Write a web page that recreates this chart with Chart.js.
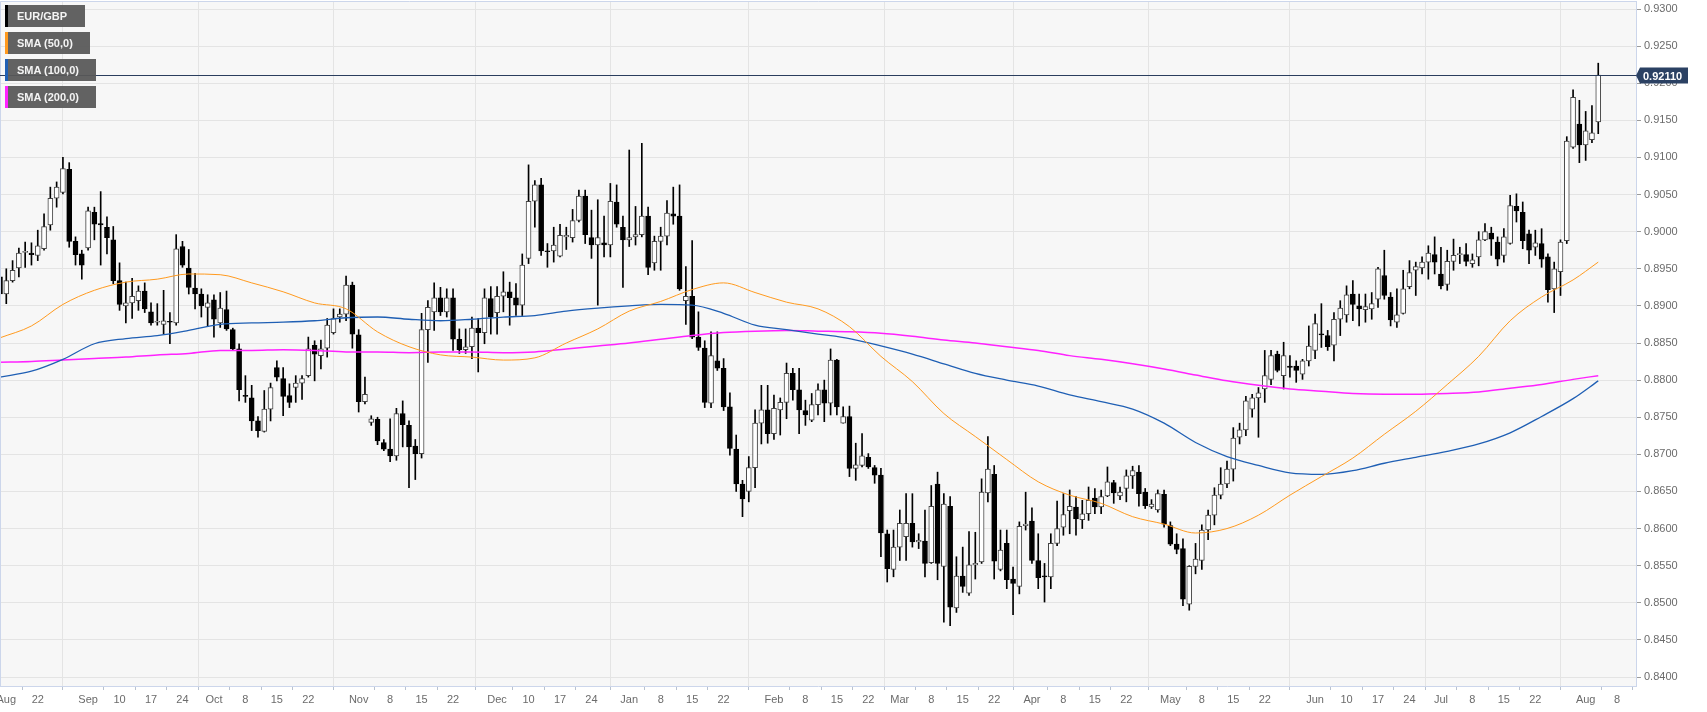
<!DOCTYPE html>
<html>
<head>
<meta charset="utf-8">
<title>EUR/GBP daily</title>
<script src="https://cdn.jsdelivr.net/npm/chart.js@4.4.1/dist/chart.umd.min.js"></script>
<style>
  html, body { margin: 0; padding: 0; background: #fff; }
  #wrap { position: relative; width: 1707px; height: 712px; }
  #legend { position: absolute; left: 5px; top: 5px; }
  .tag {
    position: relative; height: 22px; margin-bottom: 5px; box-sizing: border-box;
    padding-left: 12px; background: rgba(88, 88, 88, 0.94); color: #f4f4f4;
    font: bold 11px "Liberation Sans", Arial, sans-serif; line-height: 22px;
  }
  .tag::before { content: ""; position: absolute; left: 0; top: 0; bottom: 0; width: 3px; background: var(--c); }
</style>
</head>
<body>
<div id="wrap">
  <canvas id="chart" width="1707" height="712"></canvas>
  <div id="legend">
    <div class="tag" style="--c:#000; width:80px">EUR/GBP</div>
    <div class="tag" style="--c:#ff9a1f; width:85px">SMA (50,0)</div>
    <div class="tag" style="--c:#1f5fb4; width:91px">SMA (100,0)</div>
    <div class="tag" style="--c:#ff22ff; width:91px">SMA (200,0)</div>
  </div>
</div>
<script>
// daily candles, first one is 2018-08-14
const opens = [
  .8939,.8916,.8934,.8951,.8972,.8971,.8968,.8977,.9009,.9045,
  .9053,.9084,.8987,.8970,.8978,.9026,.9011,.9006,.8989,.8934,
  .8900,.8904,.8907,.8920,.8892,.8878,.8875,.8879,.8877,.8980,
  .8951,.8924,.8916,.8898,.8908,.8877,.8895,.8868,.8842,.8779,
  .8776,.8745,.8731,.8761,.8817,.8802,.8779,.8790,.8796,.8806,
  .8847,.8833,.8843,.8864,.8885,.8889,.8928,.8861,.8771,.8743,
  .8747,.8716,.8707,.8698,.8755,.8739,.8711,.8701,.8868,.8892,
  .8911,.8892,.8911,.8855,.8841,.8845,.8870,.8864,.8910,.8891,
  .8913,.8919,.8911,.8901,.8964,.9041,.9063,.8974,.8974,.8967,
  .8993,.8992,.9015,.9048,.8992,.8982,.8985,.8982,.9040,.9006,
  .8989,.8993,.8996,.9021,.8958,.8987,.8994,.9024,.9021,.8907,
  .8913,.8858,.8843,.8769,.8826,.8816,.8764,.8707,.8660,.8650,
  .8682,.8742,.8760,.8728,.8760,.8770,.8809,.8787,.8759,.8746,
  .8767,.8787,.8769,.8827,.8742,.8751,.8681,.8685,.8696,.8682,
  .8672,.8593,.8545,.8575,.8589,.8607,.8582,.8583,.8554,.8660,
  .8549,.8630,.8493,.8536,.8513,.8551,.8555,.8648,.8673,.8545,
  .8580,.8532,.8522,.8604,.8610,.8557,.8536,.8535,.8580,.8602,
  .8624,.8629,.8612,.8620,.8641,.8629,.8644,.8662,.8644,.8654,
  .8671,.8676,.8649,.8629,.8625,.8646,.8604,.8579,.8573,.8498,
  .8549,.8557,.8598,.8618,.8645,.8660,.8680,.8723,.8733,.8761,
  .8776,.8788,.8801,.8835,.8806,.8819,.8819,.8808,.8826,.8840,
  .8862,.8860,.8847,.8882,.8888,.8916,.8900,.8895,.8896,.8909,
  .8941,.8912,.8878,.8890,.8926,.8948,.8951,.8959,.8969,.8943,
  .8929,.8960,.8969,.8969,.8957,.8966,.8989,.8998,.8986,.8968,
  .8984,.9034,.9026,.8997,.8979,.8984,.8966,.8923,.8946,.8988,
  .9114,.9145,.9117,.9124,.9148
];
const highs = [
  .8952,.8950,.8961,.8978,.8986,.8985,.9002,.9024,.9060,.9067,
  .9100,.9093,.8993,.8975,.9033,.9033,.9054,.9020,.9007,.8958,
  .8932,.8937,.8927,.8931,.8904,.8903,.8921,.8891,.8996,.8987,
  .8976,.8944,.8923,.8915,.8915,.8918,.8920,.8870,.8849,.8806,
  .8793,.8751,.8786,.8796,.8826,.8817,.8795,.8806,.8806,.8858,
  .8853,.8854,.8883,.8896,.8896,.8940,.8932,.8868,.8804,.8752,
  .8750,.8720,.8748,.8762,.8772,.8745,.8720,.8890,.8907,.8931,
  .8925,.8923,.8923,.8869,.8869,.8885,.8883,.8923,.8926,.8926,
  .8946,.8932,.8930,.8970,.9090,.9069,.9072,.8984,.9006,.9010,
  .9006,.9030,.9056,.9056,.9029,.9043,.9021,.9065,.9063,.9021,
  .9110,.9034,.9119,.9033,.8994,.9006,.9042,.9060,.9063,.8953,
  .8988,.8892,.8853,.8865,.8865,.8829,.8783,.8726,.8665,.8697,
  .8760,.8793,.8793,.8780,.8776,.8823,.8816,.8816,.8773,.8782,
  .8795,.8800,.8842,.8828,.8764,.8765,.8715,.8728,.8701,.8685,
  .8681,.8598,.8598,.8625,.8647,.8647,.8593,.8625,.8658,.8676,
  .8647,.8643,.8562,.8575,.8596,.8595,.8667,.8724,.8685,.8598,
  .8598,.8548,.8609,.8649,.8628,.8593,.8553,.8593,.8637,.8647,
  .8652,.8643,.8638,.8656,.8654,.8652,.8683,.8665,.8656,.8679,
  .8684,.8685,.8654,.8639,.8652,.8652,.8609,.8593,.8586,.8550,
  .8580,.8605,.8625,.8655,.8682,.8691,.8736,.8742,.8778,.8781,
  .8790,.8840,.8840,.8839,.8851,.8833,.8826,.8828,.8873,.8889,
  .8903,.8867,.8891,.8907,.8927,.8934,.8916,.8916,.8918,.8952,
  .8975,.8918,.8923,.8948,.8961,.8959,.8966,.8981,.8993,.8979,
  .8975,.8990,.8979,.8984,.8970,.9000,.9011,.9006,.8993,.9004,
  .9049,.9051,.9040,.9002,.9002,.9004,.8970,.8959,.8989,.9128,
  .9191,.9177,.9162,.9170,.9227
];
const lows = [
  .8898,.8903,.8932,.8939,.8952,.8955,.8961,.8975,.9002,.9033,
  .9051,.8979,.8955,.8936,.8975,.8989,.8955,.8970,.8930,.8894,
  .8877,.8883,.8894,.8891,.8874,.8874,.8862,.8849,.8874,.8952,
  .8916,.8896,.8885,.8872,.8858,.8871,.8867,.8840,.8772,.8770,
  .8732,.8723,.8730,.8745,.8799,.8752,.8763,.8770,.8774,.8804,
  .8799,.8815,.8831,.8862,.8878,.8880,.8843,.8757,.8768,.8739,
  .8713,.8705,.8690,.8692,.8710,.8655,.8666,.8695,.8824,.8867,
  .8887,.8885,.8840,.8836,.8836,.8829,.8811,.8849,.8862,.8862,
  .8892,.8874,.8887,.8887,.8957,.9006,.8968,.8952,.8959,.8966,
  .8976,.8986,.9013,.8984,.8964,.8901,.8966,.8966,.9006,.8925,
  .8980,.8982,.8993,.8942,.8948,.8948,.8982,.9010,.8921,.8875,
  .8856,.8840,.8763,.8763,.8813,.8759,.8699,.8650,.8616,.8636,
  .8655,.8714,.8715,.8720,.8726,.8748,.8773,.8728,.8739,.8744,
  .8753,.8744,.8753,.8753,.8742,.8670,.8665,.8683,.8681,.8661,
  .8562,.8528,.8535,.8557,.8557,.8575,.8573,.8535,.8553,.8531,
  .8474,.8469,.8487,.8514,.8510,.8532,.8553,.8636,.8532,.8543,
  .8519,.8484,.8512,.8598,.8553,.8519,.8501,.8519,.8577,.8591,
  .8593,.8591,.8600,.8611,.8620,.8620,.8643,.8634,.8639,.8636,
  .8654,.8630,.8627,.8627,.8622,.8602,.8577,.8566,.8496,.8490,
  .8539,.8545,.8585,.8605,.8640,.8655,.8664,.8714,.8725,.8750,
  .8723,.8770,.8794,.8811,.8788,.8804,.8797,.8801,.8819,.8829,
  .8844,.8840,.8826,.8860,.8878,.8880,.8873,.8878,.8882,.8898,
  .8909,.8873,.8871,.8889,.8923,.8914,.8943,.8936,.8943,.8923,
  .8921,.8948,.8957,.8954,.8952,.8954,.8988,.8968,.8954,.8959,
  .8983,.9013,.8977,.8957,.8968,.8952,.8905,.8891,.8914,.8984,
  .9112,.9093,.9096,.9120,.9132
];
const closes = [
  .8916,.8934,.8948,.8971,.8973,.8969,.8981,.9007,.9045,.9060,
  .9085,.8987,.8969,.8955,.9028,.9010,.9009,.8992,.8934,.8902,
  .8904,.8913,.8920,.8896,.8877,.8879,.8880,.8878,.8977,.8955,
  .8925,.8916,.8900,.8904,.8882,.8897,.8869,.8842,.8787,.8778,
  .8745,.8732,.8761,.8790,.8804,.8778,.8770,.8796,.8802,.8842,
  .8835,.8842,.8874,.8883,.8889,.8928,.8862,.8771,.8781,.8748,
  .8718,.8707,.8698,.8755,.8740,.8710,.8701,.8868,.8898,.8911,
  .8892,.8911,.8855,.8841,.8845,.8870,.8864,.8911,.8885,.8913,
  .8919,.8911,.8901,.8955,.9041,.9063,.8974,.8973,.8982,.8995,
  .8995,.9015,.9048,.8996,.8982,.8992,.8982,.9041,.9010,.8989,
  .8992,.8996,.9021,.8952,.8987,.8994,.9025,.9021,.8923,.8913,
  .8858,.8844,.8770,.8833,.8816,.8764,.8708,.8660,.8640,.8682,
  .8742,.8760,.8728,.8762,.8770,.8809,.8787,.8760,.8753,.8767,
  .8787,.8769,.8827,.8764,.8751,.8681,.8686,.8698,.8683,.8672,
  .8594,.8546,.8575,.8607,.8607,.8582,.8584,.8553,.8630,.8553,
  .8633,.8494,.8536,.8522,.8551,.8553,.8649,.8680,.8556,.8571,
  .8531,.8526,.8603,.8606,.8557,.8534,.8535,.8580,.8600,.8619,
  .8630,.8613,.8620,.8638,.8629,.8643,.8663,.8648,.8649,.8671,
  .8678,.8647,.8631,.8633,.8647,.8606,.8579,.8572,.8505,.8549,
  .8559,.8598,.8618,.8645,.8660,.8680,.8722,.8733,.8772,.8776,
  .8783,.8806,.8833,.8813,.8833,.8817,.8813,.8826,.8846,.8876,
  .8861,.8845,.8882,.8897,.8915,.8902,.8896,.8899,.8903,.8950,
  .8914,.8881,.8888,.8923,.8945,.8953,.8959,.8971,.8959,.8927,
  .8960,.8968,.8970,.8960,.8962,.8989,.9000,.8990,.8963,.8993,
  .9035,.9028,.8988,.8975,.8985,.8963,.8922,.8950,.8986,.9122,
  .9181,.9117,.9136,.9133,.9211
];

// moving averages every 5th session
const smaAt = [0,5,10,15,20,25,30,35,40,45,50,55,60,65,70,75,80,85,90,95,100,105,110,115,120,125,
  130,135,140,145,150,155,160,165,170,175,180,185,190,195,200,205,210,215,220,225,230,235,240,245,250,254];
const sma50 = [.8857,.8873,.8902,.8921,.8932,.8936,.8943,.8942,.8931,.8919,.8904,.8896,.8865,.8845,.8834,.8831,
  .8827,.8830,.8850,.8869,.8893,.8906,.8922,.8931,.8918,.8905,.8896,.8872,.8832,.8798,.8755,.8724,.8693,.8663,
  .8645,.8634,.8616,.8606,.8594,.8600,.8618,.8645,.8670,.8695,.8727,.8758,.8794,.8832,.8880,.8912,.8935,.8959];
const sma100 = [.8804,.8812,.8828,.8849,.8856,.8860,.8867,.8875,.8877,.8878,.8880,.8884,.8885,.8882,.8880,.8882,
  .8885,.8887,.8893,.8897,.8900,.8902,.8901,.8890,.8874,.8868,.8862,.8856,.8846,.8835,.8822,.8809,.8800,.8792,
  .8780,.8771,.8761,.8742,.8716,.8697,.8685,.8675,.8673,.8678,.8688,.8696,.8704,.8714,.8729,.8751,.8775,.8799];
const sma200 = [.8824,.8825,.8827,.8829,.8831,.8834,.8836,.8840,.8840,.8841,.8840,.8838,.8838,.8837,.8838,.8838,
  .8837,.8838,.8842,.8846,.8850,.8855,.8860,.8864,.8866,.8867,.8866,.8865,.8863,.8859,.8854,.8850,.8845,.8840,
  .8833,.8828,.8822,.8815,.8807,.8799,.8793,.8788,.8785,.8782,.8781,.8781,.8782,.8784,.8789,.8794,.8801,.8806];

// x tick labels: [date, text]
const xTicks = [
  ["2018-08-15","Aug"],["2018-08-22","22"],
  ["2018-09-03","Sep"],["2018-09-10","10"],["2018-09-17","17"],["2018-09-24","24"],
  ["2018-10-01","Oct"],["2018-10-08","8"],["2018-10-15","15"],["2018-10-22","22"],
  ["2018-11-01","Nov"],["2018-11-08","8"],["2018-11-15","15"],["2018-11-22","22"],
  ["2018-12-03","Dec"],["2018-12-10","10"],["2018-12-17","17"],["2018-12-24","24"],
  ["2019-01-01","Jan"],["2019-01-08","8"],["2019-01-15","15"],["2019-01-22","22"],
  ["2019-02-01","Feb"],["2019-02-08","8"],["2019-02-15","15"],["2019-02-22","22"],
  ["2019-03-01","Mar"],["2019-03-08","8"],["2019-03-15","15"],["2019-03-22","22"],
  ["2019-04-01","Apr"],["2019-04-08","8"],["2019-04-15","15"],["2019-04-22","22"],
  ["2019-05-01","May"],["2019-05-08","8"],["2019-05-15","15"],["2019-05-22","22"],
  ["2019-06-03","Jun"],["2019-06-10","10"],["2019-06-17","17"],["2019-06-24","24"],
  ["2019-07-01","Jul"],["2019-07-08","8"],["2019-07-15","15"],["2019-07-22","22"],
  ["2019-08-01","Aug"],["2019-08-08","8"]
];

// trading days on the axis (weekdays), axis runs a few days past the last candle
const days = [];
for (let t = Date.UTC(2018, 7, 14); t <= Date.UTC(2019, 7, 13); t += 864e5) {
  const d = new Date(t);
  if (d.getUTCDay() % 6 !== 0) days.push(d.toISOString().slice(0, 10));
}

const tickText = Object.fromEntries(xTicks);
const monthLines = new Set(xTicks.slice(1).filter(t => isNaN(+t[1])).map(t => t[0]));

const isUp = i => closes[i] >= opens[i];
const bodies = opens.map((o, i) => [o, closes[i]]);
const wicks = lows.map((l, i) => [l, highs[i]]);

function smaSeries(values) {
  const out = new Array(days.length).fill(null);
  smaAt.forEach((d, k) => { out[d] = values[k]; });
  return out;
}

function smaLine(values, color, width) {
  return {
    type: "line",
    data: smaSeries(values),
    borderColor: color,
    borderWidth: width,
    pointRadius: 0,
    spanGaps: true,
    cubicInterpolationMode: "monotone",
    order: 1
  };
}

const frame = {
  id: "frame",
  beforeDraw(chart) {
    const { ctx, chartArea: a } = chart;
    ctx.save();
    ctx.fillStyle = "#f7f7f7";
    ctx.fillRect(a.left, a.top, a.right - a.left, a.bottom - a.top);
    ctx.restore();
  },
  afterDraw(chart) {
    const { ctx, chartArea: a, scales } = chart;
    ctx.save();
    ctx.strokeStyle = "#ccd6eb";
    ctx.lineWidth = 1;
    ctx.beginPath();
    ctx.moveTo(a.left + 0.5, a.bottom);
    ctx.lineTo(a.left + 0.5, a.top + 0.5);
    ctx.lineTo(a.right, a.top + 0.5);
    ctx.stroke();

    const last = closes[closes.length - 1];
    const py = Math.round(scales.y.getPixelForValue(last)) + 0.5;
    ctx.strokeStyle = "#2b3e5e";
    ctx.beginPath();
    ctx.moveTo(a.left, py);
    ctx.lineTo(a.right, py);
    ctx.stroke();

    ctx.fillStyle = "#2b4163";
    ctx.beginPath();
    ctx.moveTo(a.right, py);
    ctx.lineTo(a.right + 4, py - 8);
    ctx.lineTo(a.right + 52, py - 8);
    ctx.lineTo(a.right + 52, py + 8);
    ctx.lineTo(a.right + 4, py + 8);
    ctx.closePath();
    ctx.fill();
    ctx.fillStyle = "#fff";
    ctx.font = 'bold 11px "Liberation Sans", Arial, sans-serif';
    ctx.textBaseline = "middle";
    ctx.fillText(last.toFixed(5), a.right + 7, py + 1);
    ctx.restore();
  }
};

Chart.defaults.font.family = '"Liberation Sans", Arial, sans-serif';
Chart.defaults.font.size = 11;
Chart.defaults.color = "#6b6b6b";

new Chart(document.getElementById("chart"), {
  type: "bar",
  data: {
    labels: days,
    datasets: [
      {
        data: wicks,
        backgroundColor: "#000",
        borderWidth: 0,
        barThickness: 1,
        grouped: false,
        order: 3
      },
      {
        data: bodies,
        backgroundColor: ctx => isUp(ctx.dataIndex) ? "#ffffff" : "#000000",
        borderColor: ctx => isUp(ctx.dataIndex) ? "#444444" : "#000000",
        borderWidth: 1,
        borderSkipped: false,
        barThickness: 5,
        minBarLength: 1,
        grouped: false,
        order: 2
      },
      smaLine(sma50, "#ff9a1f", 1),
      smaLine(sma100, "#1f5fb4", 1.3),
      smaLine(sma200, "#ff22ff", 1.5)
    ]
  },
  options: {
    responsive: false,
    animation: false,
    events: [],
    layout: { padding: { top: 1, left: 0, right: 0, bottom: 0 } },
    plugins: { legend: { display: false }, tooltip: { enabled: false } },
    scales: {
      x: {
        type: "category",
        offset: false,
        border: { color: "#ccd6eb" },
        grid: {
          color: ctx => ctx.tick && monthLines.has(days[ctx.tick.value]) ? "#e4e4e4" : "rgba(0,0,0,0)",
          tickColor: "#b9c2d0",
          tickLength: 4
        },
        ticks: {
          autoSkip: false,
          maxRotation: 0,
          padding: 3,
          callback(value) { return tickText[this.getLabelForValue(value)]; }
        },
        afterBuildTicks(scale) {
          scale.ticks = scale.ticks.filter(t => tickText[days[t.value]] !== undefined);
        },
        afterFit(scale) {
          scale.height = 26;
          scale.paddingLeft = 0;
          scale.paddingRight = 0;
        }
      },
      y: {
        position: "right",
        min: 0.838788,
        max: 0.931078,
        border: { color: "#ccd6eb" },
        grid: { color: "#e4e4e4", tickColor: "#9a9a9a", tickLength: 5 },
        ticks: {
          stepSize: 0.005,
          includeBounds: false,
          padding: 3,
          callback: v => v.toFixed(4)
        },
        afterBuildTicks(scale) {
          scale.ticks = scale.ticks.filter(t => Math.abs(t.value * 200 - Math.round(t.value * 200)) < 1e-6);
        },
        afterFit(scale) {
          scale.width = 71;
          scale.paddingTop = 0;
          scale.paddingBottom = 0;
        }
      }
    }
  },
  plugins: [frame]
});
</script>
</body>
</html>
